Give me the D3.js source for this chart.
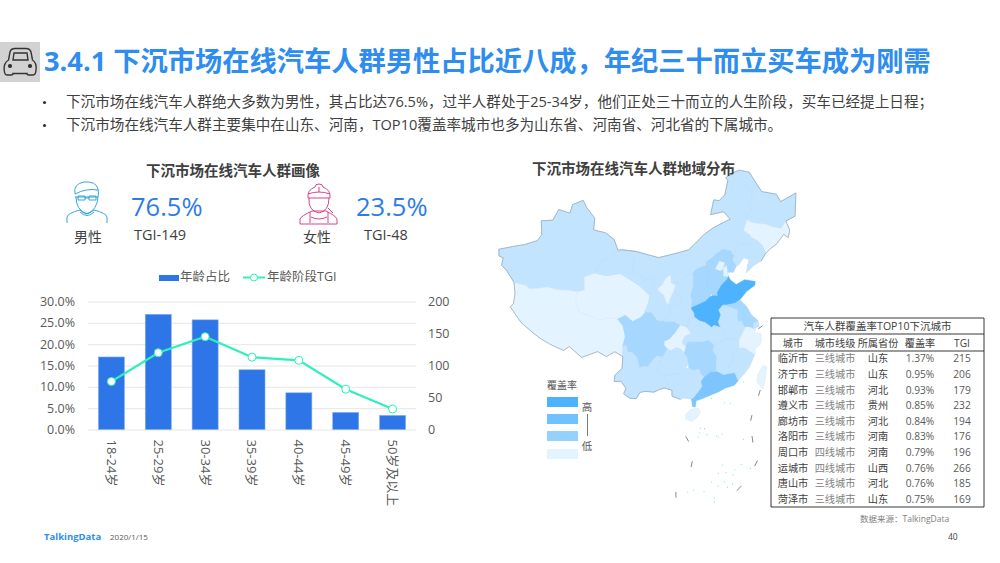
<!DOCTYPE html>
<html>
<head>
<meta charset="utf-8">
<script src="https://cdn.jsdelivr.net/npm/d3@7"></script>
<style>
body { margin: 0; background: #fff; }
text { font-family: "Open Sans", "Noto Sans CJK SC", sans-serif; }
</style>
</head>
<body>
<svg id="slide" width="1000" height="563"></svg>
<script>
// age chart
var ageGroups = ["18-24岁", "25-29岁", "30-34岁", "35-39岁", "40-44岁", "45-49岁", "50岁及以上"];
var ageShare = [17.0, 27.0, 25.7, 14.0, 8.6, 4.0, 3.3];
var ageTgi = [75, 120, 145, 113, 108, 63, 32];
var shareTicks = [0, 5, 10, 15, 20, 25, 30];
var tgiTicks = [0, 50, 100, 150, 200];

// top 10 table
var tableHead = ["城市", "城市线级", "所属省份", "覆盖率", "TGI"];
var tableCity = ["临沂市", "济宁市", "邯郸市", "遵义市", "廊坊市", "洛阳市", "周口市", "运城市", "唐山市", "菏泽市"];
var tableTier = ["三线城市", "三线城市", "三线城市", "三线城市", "三线城市", "三线城市", "四线城市", "四线城市", "三线城市", "三线城市"];
var tableProv = ["山东", "山东", "河北", "贵州", "河北", "河南", "河南", "山西", "河北", "山东"];
var tableRate = ["1.37%", "0.95%", "0.93%", "0.85%", "0.84%", "0.83%", "0.79%", "0.76%", "0.76%", "0.75%"];
var tableTgi = [215, 206, 179, 232, 194, 176, 196, 266, 185, 169];

// map, outlines are rough lon/lat, level 0 is lightest
var levelColors = ["#E3F3FF", "#C2E4FF", "#A6D8FF", "#7CC5FF", "#4DB3FF"];
var legendColors = ["#4DB3FF", "#70C1FF", "#94D1FF", "#E3F3FF"];
var provinceNames = ["新疆", "西藏", "青海", "甘肃", "内蒙古", "黑龙江", "吉林", "辽宁", "河北", "北京", "天津", "山西", "陕西", "宁夏", "河南", "山东", "江苏", "安徽", "湖北", "重庆", "四川", "云南", "贵州", "广西", "广东", "湖南", "江西", "福建", "浙江", "上海", "海南", "台湾"];
var provinceLevels = [1, 0, 0, 1, 1, 1, 0, 1, 2, 0, 0, 2, 1, 0, 4, 4, 2, 1, 1, 0, 2, 1, 1, 1, 3, 2, 1, 1, 0, 1, 0, 0];
var provinceShapes = [
  [[73.5,39.4],[73.9,38.5],[74.8,38.4],[74.9,37.3],[76,36.9],[78,35.5],[80.3,35.5],[81,35.2],[82.5,35.5],[84,36],[86,35.9],[88,36.1],[89.7,36.1],[90.9,36.5],[90.5,38.3],[92.5,39.1],[93,40.5],[95.4,41.9],[96.4,42.7],[95.4,44.2],[93.5,45],[91,45.2],[90.9,46.9],[88.9,48.2],[87.8,49.2],[85.7,48.3],[85.5,47],[83,47.2],[82.3,45.5],[80,45],[80.8,43.1],[80.2,42.1],[78,41.1],[76,40.4]],
  [[78,35.5],[78.7,34],[78.9,32.5],[78.5,32],[81,30.2],[83.5,29.1],[85,28.5],[86.7,28],[88.9,27.5],[89.7,28.2],[92,26.9],[94.5,28],[96,27.4],[97.3,28.2],[98.7,27.6],[98.6,29.2],[98.9,30.5],[98.4,32],[97.4,32.9],[95.8,33],[94.2,32.5],[92.3,33],[90.5,33.3],[89.5,35],[89.7,36.1],[88,36.1],[86,35.9],[84,36],[82.5,35.5],[81,35.2],[80.3,35.5]],
  [[89.7,36.1],[90.9,36.5],[90.5,38.3],[92.5,39.1],[94.5,38.9],[97.2,39.4],[99,38.7],[101,37.8],[102.9,36.5],[102.8,35.6],[102.3,34.5],[101.8,33.6],[101.2,33.2],[100,32.7],[98.7,33.5],[97.4,32.9],[95.8,33],[94.2,32.5],[92.3,33],[90.5,33.3],[89.5,35]],
  [[92.5,39.1],[94.5,38.9],[97.2,39.4],[99,38.7],[101,37.8],[102.9,36.5],[102.8,35.6],[102.3,34.5],[101.8,33.6],[102.3,34],[103.3,34],[104.4,32.8],[105.4,32.8],[106,33.4],[106.6,33.6],[106.5,35],[107.7,34.9],[108.7,35.5],[108.6,36.4],[107.3,37.1],[106.6,36],[106.5,35.4],[106,35.4],[105.6,36.5],[104.3,37.4],[103.4,37.8],[104,38.9],[103.3,39.3],[101.8,38.6],[100.9,39.5],[99.5,39.9],[100,42.7],[97.2,42.8],[96.4,42.7],[95.4,41.9],[93,40.5]],
  [[97.2,42.8],[100,42.7],[104.5,41.9],[107.5,42.4],[110.5,42.9],[112,43.8],[114,45],[116,45.8],[119.7,46.7],[118.5,47.9],[115.7,47.7],[116.7,49.8],[117.9,49.6],[119.3,50.3],[120.5,52.4],[120.1,52.8],[121.5,53.3],[122,52.4],[123.5,51.3],[125.5,50.2],[125,49],[124.3,48.5],[124.5,47.5],[123.3,46.9],[123.2,46.2],[122.1,44.8],[123.2,44],[123.5,43.5],[122.6,42.6],[120.9,43],[119.8,42.2],[119.3,41.3],[118.9,42.1],[117.4,42.5],[116,42],[115.4,41.6],[113.9,41],[113.8,40.5],[111.9,40.1],[111.1,39.5],[110.9,39.5],[110.2,39.3],[109,38.7],[108,38],[107.7,37.9],[106.9,38.3],[106.8,39.4],[106,39],[105.2,38],[104.3,37.4],[103.4,37.8],[104,38.9],[103.3,39.3],[101.8,38.6],[100.9,39.5],[99.5,39.9],[100,42.7]],
  [[121.5,53.3],[123.5,53.6],[125.7,53],[127.5,49.8],[130.5,48.9],[131,47.7],[134.7,48.3],[133.1,45.1],[131,44.8],[129.7,43.9],[127.6,44.6],[126.9,45],[125.2,45.4],[124,45.7],[123.2,46.2],[123.3,46.9],[124.5,47.5],[124.3,48.5],[125,49],[125.5,50.2],[123.5,51.3],[122,52.4]],
  [[123.2,46.2],[124,45.7],[125.2,45.4],[126.9,45],[127.6,44.6],[129.7,43.9],[131,44.8],[131.3,43.4],[130.6,42.4],[129.9,43],[128,41.9],[126.5,41.4],[125.5,40.9],[125.5,41.3],[125.1,42.3],[124.5,42.9],[123.5,43.5],[123.2,44],[122.1,44.8]],
  [[118.9,41],[119.3,41.3],[119.8,42.2],[120.9,43],[122.6,42.6],[123.5,43.5],[124.5,42.9],[125.1,42.3],[125.5,41.3],[125.5,40.9],[124.4,40],[122.9,39.6],[121.2,38.7],[121.7,39.8],[122.2,40.5],[121.2,40.9],[120,40],[119.5,39.9],[119,40.7]],
  [[119.5,39.9],[119,40.7],[118.9,41],[119.3,41.3],[118.9,42.1],[117.4,42.5],[116,42],[115.4,41.6],[113.9,41],[113.8,40.5],[114.1,39.6],[113.7,38.5],[113.6,37.8],[113.7,36.9],[114.2,36.5],[114.4,36.1],[115.4,36],[115.4,36.5],[116.3,37.5],[117.5,38.2],[117.8,38.6],[117.7,39.2],[118.8,39.1]],
  [[115.5,39.9],[116.4,40.9],[117.4,40.6],[117,39.8],[116.4,39.5]],
  [[117,39.8],[117.7,40.2],[117.7,39.2],[117.8,38.6],[116.9,38.7]],
  [[113.8,40.5],[114.1,39.6],[113.7,38.5],[113.6,37.8],[113.7,36.9],[114.2,36.5],[114,36],[113,35.4],[112,35.1],[110.4,34.6],[110.6,35.6],[110.4,36.5],[110.9,37.5],[111.1,38.7],[111.1,39.5],[111.9,40.1]],
  [[110.9,39.5],[111.1,39.5],[111.1,38.7],[110.9,37.5],[110.4,36.5],[110.6,35.6],[110.4,34.6],[110.9,33.9],[111,33.2],[110,33.1],[109.5,31.8],[108.3,32.2],[107.2,32.7],[105.6,32.7],[105.4,32.8],[106,33.4],[106.6,33.6],[106.5,35],[107.7,34.9],[108.7,35.5],[108.6,36.4],[107.3,37.1],[107.7,37.9],[108,38],[109,38.7],[110.2,39.3]],
  [[104.3,37.4],[105.2,38],[106,39],[106.8,39.4],[106.9,38.3],[107.7,37.9],[107.3,37.1],[106.6,36],[106.5,35.4],[106,35.4],[105.6,36.5]],
  [[110.4,34.6],[112,35.1],[113,35.4],[114,36],[114.4,36.1],[115.4,36],[115.3,35.2],[116.1,34.6],[115.3,34],[115.6,33.3],[115,32.3],[115.3,31.5],[114.2,31.9],[113.8,31.6],[112.7,32.4],[111.7,32.7],[111,33.2],[110.9,33.9]],
  [[115.4,36],[115.4,36.5],[116.3,37.5],[117.5,38.2],[117.8,38.6],[118,38.1],[119,37.3],[120.7,37.8],[122.6,37.3],[122.4,36.8],[120.7,36.1],[119.3,35.1],[118.3,34.7],[117,34.6],[116.1,34.6],[115.3,35.2]],
  [[116.1,34.6],[117,34.6],[118.3,34.7],[119.3,35.1],[120.3,34],[120.9,32.7],[121.9,31.7],[120.9,31.4],[120.9,30.7],[120.3,31],[119.6,31.1],[119.3,31.3],[119,32.1],[118.5,32],[118.4,32.7],[118.7,33.7],[117.6,34.1],[116.4,34.6]],
  [[116.1,34.6],[115.3,34],[115.6,33.3],[115,32.3],[115.3,31.5],[116,30.3],[115.9,29.8],[117.1,29.7],[118.2,29.4],[118.9,30.3],[119.6,31.1],[119.3,31.3],[119,32.1],[118.5,32],[118.4,32.7],[118.7,33.7],[117.6,34.1],[116.4,34.6]],
  [[110,33.1],[111,33.2],[111.7,32.7],[112.7,32.4],[113.8,31.6],[114.2,31.9],[115.3,31.5],[116,30.3],[115.9,29.8],[114.9,29.4],[113.9,29],[113,29.8],[112,29.6],[110.5,29.7],[109.5,29.7],[109.2,29],[108.5,29.7],[109,30.6],[110.1,31],[109.5,31.8]],
  [[105.5,30],[106.4,30.3],[107.3,31.1],[108.3,32.2],[109.5,31.8],[110.1,31],[109,30.6],[108.5,29.7],[109.2,29],[108.9,28.2],[108.4,28.7],[107.6,29],[106.7,28.6],[106,28.9],[105.5,29.4]],
  [[97.4,32.9],[98.7,33.5],[100,32.7],[101.2,33.2],[101.8,33.6],[102.3,34],[103.3,34],[104.4,32.8],[105.4,32.8],[105.6,32.7],[107.2,32.7],[108.3,32.2],[107.3,31.1],[106.4,30.3],[105.5,30],[105.5,29.4],[106,28.9],[105.7,28.3],[105.3,27.7],[104.3,27.9],[103.4,27],[102.9,26.3],[102,26.3],[101.5,26.1],[101.1,27.5],[100.2,28.3],[99.5,28.3],[99.2,29.2],[98.6,29.2],[98.9,30.5],[98.4,32]],
  [[98.6,29.2],[99.2,29.2],[99.5,28.3],[100.2,28.3],[101.1,27.5],[101.5,26.1],[102,26.3],[102.9,26.3],[103.4,27],[104.3,27.9],[105.3,27.7],[104.6,26.5],[104.4,25.5],[105.2,24.9],[106.2,23.9],[105.5,23.2],[104.8,23],[103.9,22.6],[102.5,22.7],[101.7,22.5],[101.2,21.6],[100.2,21.6],[99.2,22.2],[99.5,23],[98.7,24],[97.6,23.9],[97.6,24.8],[98.7,25.9],[98.7,27.6]],
  [[105.3,27.7],[105.7,28.3],[106,28.9],[106.7,28.6],[107.6,29],[108.4,28.7],[108.9,28.2],[109.4,27.5],[109.5,26.7],[108.9,25.9],[108.1,25.3],[106.9,25.2],[105.2,24.9],[104.4,25.5],[104.6,26.5]],
  [[105.2,24.9],[106.9,25.2],[108.1,25.3],[108.9,25.9],[109.5,26.1],[110.3,25.7],[111.2,25.9],[111.5,25],[112,24.7],[111.4,24],[111.5,23.2],[110.7,22.3],[109.9,21.5],[109.6,21.5],[108.5,21.7],[108,21.5],[106.7,22],[106.7,22.9],[105.5,23.2],[106.2,23.9]],
  [[109.9,21.5],[110.7,22.3],[111.5,23.2],[111.4,24],[112,24.7],[113,25.3],[114.2,25.2],[115,24.7],[115.8,24.8],[116.8,24.8],[117.2,23.6],[116.5,23],[115,22.7],[114,22.3],[113,22],[111.5,21.5],[110.4,21.2],[110.2,20.3],[109.8,20.4],[109.7,21.5]],
  [[110.5,29.7],[112,29.6],[113,29.8],[113.9,29],[113.6,28.3],[114.2,27.4],[114,26.5],[113.9,25.4],[114.2,25.2],[113,25.3],[112,24.7],[111.5,25],[111.2,25.9],[110.3,25.7],[109.5,26.1],[109.5,26.7],[109.4,27.5],[108.9,28.2],[109.2,29],[109.5,29.7]],
  [[113.9,29],[114.9,29.4],[115.9,29.8],[117.1,29.7],[118.2,29.4],[118,28.3],[117,27.5],[116.6,26.5],[116,25.8],[115.8,24.8],[115,24.7],[114.2,25.2],[113.9,25.4],[114,26.5],[114.2,27.4],[113.6,28.3]],
  [[118,28.3],[117,27.5],[116.6,26.5],[116,25.8],[115.8,24.8],[116.8,24.8],[117.2,23.6],[118.2,24.4],[119.2,25.3],[119.7,26],[120.4,27],[119.7,27.6],[118.9,28.2]],
  [[118.2,29.4],[118.9,30.3],[119.6,31.1],[120.3,31],[120.9,30.7],[121.3,30.6],[120.9,30.1],[122,29.9],[121.9,29],[121.5,28.2],[120.7,27.9],[120.4,27],[119.7,27.6],[118.9,28.2],[118,28.3]],
  [[120.9,31.4],[121.9,31.7],[121.9,30.9],[120.9,30.7]],
  [[108.7,19.3],[109.5,20],[110.7,20.1],[111,19.6],[110.5,18.8],[109.6,18.2],[108.7,18.5]],
  [[121.5,25.3],[122,25],[121.4,23.1],[120.8,21.9],[120.1,23],[120.3,24]]
];
var frontierLine = [[124.4,40],[125.5,40.9],[126.5,41.4],[128,41.9],[129.9,43],[130.6,42.4],[131.3,43.4],[131,44.8],[133.1,45.1],[134.7,48.3],[131,47.7],[130.5,48.9],[127.5,49.8],[125.7,53],[123.5,53.6],[121.5,53.3],[120.1,52.8],[120.5,52.4],[119.3,50.3],[117.9,49.6],[116.7,49.8],[115.7,47.7],[118.5,47.9],[119.7,46.7],[116,45.8],[114,45],[112,43.8],[110.5,42.9],[107.5,42.4],[104.5,41.9],[100,42.7],[97.2,42.8],[96.4,42.7],[95.4,44.2],[93.5,45],[91,45.2],[90.9,46.9],[88.9,48.2],[87.8,49.2],[85.7,48.3],[85.5,47],[83,47.2],[82.3,45.5],[80,45],[80.8,43.1],[80.2,42.1],[78,41.1],[76,40.4],[73.5,39.4],[73.9,38.5],[74.8,38.4],[74.9,37.3],[76,36.9],[78,35.5],[78.7,34],[78.9,32.5],[78.5,32],[81,30.2],[83.5,29.1],[85,28.5],[86.7,28],[88.9,27.5],[89.7,28.2],[92,26.9],[94.5,28],[96,27.4],[97.3,28.2],[98.7,27.6],[98.7,25.9],[97.6,24.8],[97.6,23.9],[98.7,24],[99.5,23],[99.2,22.2],[100.2,21.6],[101.2,21.6],[101.7,22.5],[102.5,22.7],[103.9,22.6],[104.8,23],[105.5,23.2],[106.7,22.9],[106.7,22],[108,21.5]];
var seaDashes = [[[121.7,30.6],[122.5,30.9]], [[120,21],[120.4,21.8]], [[118.3,17.5],[118.6,18.3]], [[118.2,14.2],[118.2,15.2]], [[118,10.6],[118.5,11.4]], [[115.2,7.1],[115.9,7.8]], [[108.6,16],[109,15.2]], [[109.2,11.3],[109.4,12.2]], [[107,6.6],[107,7.5]]];
var seaIslands = [[110.8,17.1],[111.4,17],[110.6,16.4],[110.4,15.8],[111.7,16.1],[113.1,15.8],[113.3,15.6],[113.9,16],[116.9,14.9],[113.6,11.3],[116.2,11.1],[115.2,10.4],[117.4,10.3],[112.9,10.1],[114,10.1],[114.9,9.6],[111.9,8.8],[112.7,8.1],[113.6,8.7],[114.7,8.2],[114,7.8],[110.8,7.4],[109.4,7.7],[108.6,7.4],[112.1,6.3],[112.1,5.6],[114.7,20.6],[115.6,20.4],[112.8,21.4],[118,23.3]];

var svg = d3.select("#slide");

function addText(x, y, str, size, color, anchor, weight) {
  return svg.append("text")
    .attr("x", x).attr("y", y)
    .attr("font-size", size)
    .attr("fill", color)
    .attr("text-anchor", anchor || "start")
    .attr("font-weight", weight || 400)
    .text(str);
}

// header
svg.append("rect").attr("x", 0).attr("y", 42).attr("width", 40).attr("height", 40).attr("fill", "#d2d2d2");
var car = svg.append("g").attr("fill", "none").attr("stroke", "#333").attr("stroke-width", 1.4);
car.append("path").attr("d", "M8.5,60 L10,52 Q10.8,48.5 15,48.5 L26,48.5 Q30,48.5 31,52 L32.5,60 Q37,63 36,70 Q35.8,75 33,75 L29,75 Q27,75 27,73.5 L13,73.5 Q13,75 11,75 L7,75 Q4.5,75 4.2,70 Q3.5,63 8.5,60 Z");
car.append("path").attr("d", "M13,60 L14,53 L27,53 L28,60 Z");
car.append("circle").attr("cx", 10).attr("cy", 66).attr("r", 1.4).attr("fill", "#333");
car.append("circle").attr("cx", 30).attr("cy", 66).attr("r", 1.4).attr("fill", "#333");
addText(44, 71, "3.4.1 下沉市场在线汽车人群男性占比近八成，年纪三十而立买车成为刚需", 27.25, "#2E8DEF", "start", 700);

var bullets = [
  "下沉市场在线汽车人群绝大多数为男性，其占比达76.5%，过半人群处于25-34岁，他们正处三十而立的人生阶段，买车已经提上日程；",
  "下沉市场在线汽车人群主要集中在山东、河南，TOP10覆盖率城市也多为山东省、河南省、河北省的下属城市。"
];
bullets.forEach(function(b, i) {
  svg.append("circle").attr("cx", 44.5).attr("cy", 102.5 + i * 23).attr("r", 1.6).attr("fill", "#333");
  addText(66, 107 + i * 23, b, 14.6, "#404040");
});

// portrait
addText(233, 176, "下沉市场在线汽车人群画像", 14.5, "#404040", "middle", 700);
addText(131, 216, "76.5%", 25.5, "#2E7BE8");
addText(356, 216, "23.5%", 25.5, "#2E7BE8");
addText(134, 240, "TGI-149", 14.5, "#404040");
addText(364, 240, "TGI-48", 14.5, "#404040");
addText(88, 242, "男性", 14, "#404040", "middle");
addText(317, 242, "女性", 14, "#404040", "middle");

var man = svg.append("g").attr("fill", "none").attr("stroke", "#1F9BDC").attr("stroke-width", 0.9);
man.append("path").attr("d", "M75,194 Q73,184 84,182 Q96,181 98,189 Q99,193 98,197 L75,197 M75,194 Q86,188 98,190");
man.append("path").attr("d", "M76,197 Q76,210 87,214 Q97,210 98,197");
man.append("path").attr("d", "M78,196 h7 v4 h-7 Z M89,196 h7 v4 h-7 Z M85,198 h4");
man.append("path").attr("d", "M67,223 V217 Q68,213 80,210 Q86,217 94,210 Q106,213 107,217 V223");
man.append("path").attr("d", "M80,212 Q87,219 94,212");

var woman = svg.append("g").attr("fill", "none").attr("stroke", "#D1307F").attr("stroke-width", 0.9);
woman.append("path").attr("d", "M319,184 Q323,184 323,187 Q331,190 330,198 L308,198 Q307,190 315,187 Q315,184 319,184 Z");
woman.append("path").attr("d", "M308,194 Q319,190 330,194 M319,187 V192");
woman.append("path").attr("d", "M309,198 Q308,211 319,213 Q329,211 329,198");
woman.append("path").attr("d", "M300,224 V219 Q301,216 312,211 L326,211 Q336,216 337,219 V224 Z M310,212 V223 M328,212 V223 M311,217 Q319,221 327,217 M328,208 L333,213");

// bar + line chart
var x = d3.scaleBand().domain(ageGroups).range([88, 416]).paddingInner(0.445).paddingOuter(0.222);
var yShare = d3.scaleLinear().domain([0, 30]).range([429.5, 301.5]);
var yTgi = d3.scaleLinear().domain([0, 200]).range([429.5, 301.5]);

var leftAxis = svg.append("g").attr("transform", "translate(88,0)")
  .call(d3.axisLeft(yShare).tickValues(shareTicks).tickSize(-328).tickPadding(13).tickFormat(function(d) { return d.toFixed(1) + "%"; }));
leftAxis.select(".domain").remove();
leftAxis.selectAll("line").attr("stroke", "#e6e6e6");
leftAxis.selectAll("text").attr("font-size", 12.5).attr("fill", "#595959").style("font-family", "'Open Sans','Noto Sans CJK SC'");

var rightAxis = svg.append("g").attr("transform", "translate(416,0)")
  .call(d3.axisRight(yTgi).tickValues(tgiTicks).tickSize(0).tickPadding(12));
rightAxis.select(".domain").remove();
rightAxis.selectAll("text").attr("font-size", 12.5).attr("fill", "#595959").style("font-family", "'Open Sans','Noto Sans CJK SC'");

var bottomAxis = svg.append("g").attr("transform", "translate(0,429.5)")
  .call(d3.axisBottom(x).tickSize(0));
bottomAxis.select(".domain").remove();
bottomAxis.selectAll("text")
  .attr("font-size", 13).attr("fill", "#595959")
  .style("font-family", "'Open Sans','Noto Sans CJK SC'")
  .attr("text-anchor", "start")
  .attr("dy", "0.35em").attr("y", 0)
  .attr("transform", "translate(0,10) rotate(90)");

svg.append("g").selectAll("rect").data(ageShare).enter().append("rect")
  .attr("x", function(d, i) { return x(ageGroups[i]); })
  .attr("y", function(d) { return yShare(d); })
  .attr("width", x.bandwidth())
  .attr("height", function(d) { return yShare(0) - yShare(d); })
  .attr("fill", "#2E75E8")
  .attr("stroke", "#7FAEF2").attr("stroke-width", 0.6);

var tgiLine = d3.line()
  .x(function(d, i) { return x(ageGroups[i]) + x.bandwidth() / 2; })
  .y(function(d) { return yTgi(d); });
svg.append("path").attr("d", tgiLine(ageTgi)).attr("fill", "none").attr("stroke", "#2EF0BC").attr("stroke-width", 2.2);
svg.append("g").selectAll("circle").data(ageTgi).enter().append("circle")
  .attr("cx", function(d, i) { return x(ageGroups[i]) + x.bandwidth() / 2; })
  .attr("cy", function(d) { return yTgi(d); })
  .attr("r", 4).attr("fill", "#fff").attr("stroke", "#2EF0BC").attr("stroke-width", 1);

svg.append("rect").attr("x", 159).attr("y", 275).attr("width", 20).attr("height", 6).attr("fill", "#2E75E8");
addText(180, 281, "年龄占比", 12.5, "#595959");
svg.append("line").attr("x1", 243).attr("x2", 265).attr("y1", 277.5).attr("y2", 277.5).attr("stroke", "#2EF0BC").attr("stroke-width", 2);
svg.append("circle").attr("cx", 254).attr("cy", 277.5).attr("r", 3.5).attr("fill", "#fff").attr("stroke", "#2EF0BC");
addText(267, 281, "年龄阶段TGI", 12.5, "#595959");

// map
var projection = d3.geoConicEqualArea()
  .parallels([25, 47]).rotate([-105, 0]).center([0, 36])
  .scale(395).translate([661, 299]);
var lonLatLine = d3.line()
  .x(function(p) { return projection(p)[0]; })
  .y(function(p) { return projection(p)[1]; });

svg.append("g").selectAll("path").data(provinceShapes).enter().append("path")
  .attr("d", function(d) { return lonLatLine(d) + "Z"; })
  .attr("data-name", function(d, i) { return provinceNames[i]; })
  .attr("fill", function(d, i) { return levelColors[provinceLevels[i]]; })
  .attr("stroke", function(d, i) { return d3.color(levelColors[provinceLevels[i]]).darker(0.12); })
  .attr("stroke-width", 0.5);
svg.append("path").attr("d", lonLatLine(frontierLine)).attr("fill", "none").attr("stroke", "#8fa5b5").attr("stroke-width", 0.7);
svg.append("g").selectAll("path").data(seaDashes).enter().append("path")
  .attr("d", function(d) { return lonLatLine(d); })
  .attr("stroke", "#555").attr("stroke-width", 0.7).attr("fill", "none");
svg.append("g").selectAll("circle").data(seaIslands).enter().append("circle")
  .attr("cx", function(d) { return projection(d)[0]; })
  .attr("cy", function(d) { return projection(d)[1]; })
  .attr("r", 0.6).attr("fill", "#6FE8E8");

addText(532, 174, "下沉市场在线汽车人群地域分布", 14.5, "#404040", "start", 700);

addText(547, 389, "覆盖率", 10, "#595959");
svg.append("g").selectAll("rect").data(legendColors).enter().append("rect")
  .attr("x", 547)
  .attr("y", function(d, i) { return [397, 414, 431, 449][i]; })
  .attr("width", 31).attr("height", 10).attr("fill", function(d) { return d; });
addText(587, 411, "高", 10.5, "#595959", "middle");
svg.append("line").attr("x1", 587.5).attr("x2", 587.5).attr("y1", 414).attr("y2", 436).attr("stroke", "#595959").attr("stroke-width", 0.8);
addText(587, 450, "低", 10.5, "#595959", "middle");

// table
var tableCols = [793, 835, 878, 920, 962];
var rowY = d3.scaleBand().domain(tableCity).range([351, 507]);
var tableLines = [318, 334, 351, 507];
svg.append("g").selectAll("line").data(tableLines).enter().append("line")
  .attr("x1", 771).attr("x2", 984)
  .attr("y1", function(d) { return d; }).attr("y2", function(d) { return d; })
  .attr("stroke", "#222").attr("stroke-width", 0.9);
svg.append("line").attr("x1", 771).attr("x2", 771).attr("y1", 318).attr("y2", 507).attr("stroke", "#222").attr("stroke-width", 0.9);
svg.append("line").attr("x1", 984).attr("x2", 984).attr("y1", 318).attr("y2", 507).attr("stroke", "#222").attr("stroke-width", 0.9);

addText(877.5, 330, "汽车人群覆盖率TOP10下沉城市", 10.5, "#404040", "middle");
tableHead.forEach(function(h, i) {
  addText(tableCols[i], 347, h, 10.2, "#404040", "middle");
});
tableCity.forEach(function(c, i) {
  var ty = rowY(c) + rowY.bandwidth() / 2 + 3.5;
  addText(tableCols[0], ty, c, 10.2, "#404040", "middle");
  addText(tableCols[1], ty, tableTier[i], 10.2, "#808080", "middle");
  addText(tableCols[2], ty, tableProv[i], 10.2, "#404040", "middle");
  addText(tableCols[3], ty, tableRate[i], 10.2, "#595959", "middle");
  addText(tableCols[4], ty, tableTgi[i], 10.2, "#595959", "middle");
});

// footer
addText(860, 522, "数据来源：TalkingData", 8.5, "#808080");
addText(948, 540, "40", 8.5, "#404040");
addText(44, 540, "TalkingData", 9.5, "#2E8DEF", "start", 700);
addText(110, 540, "2020/1/15", 8, "#595959");
</script>
</body>
</html>
